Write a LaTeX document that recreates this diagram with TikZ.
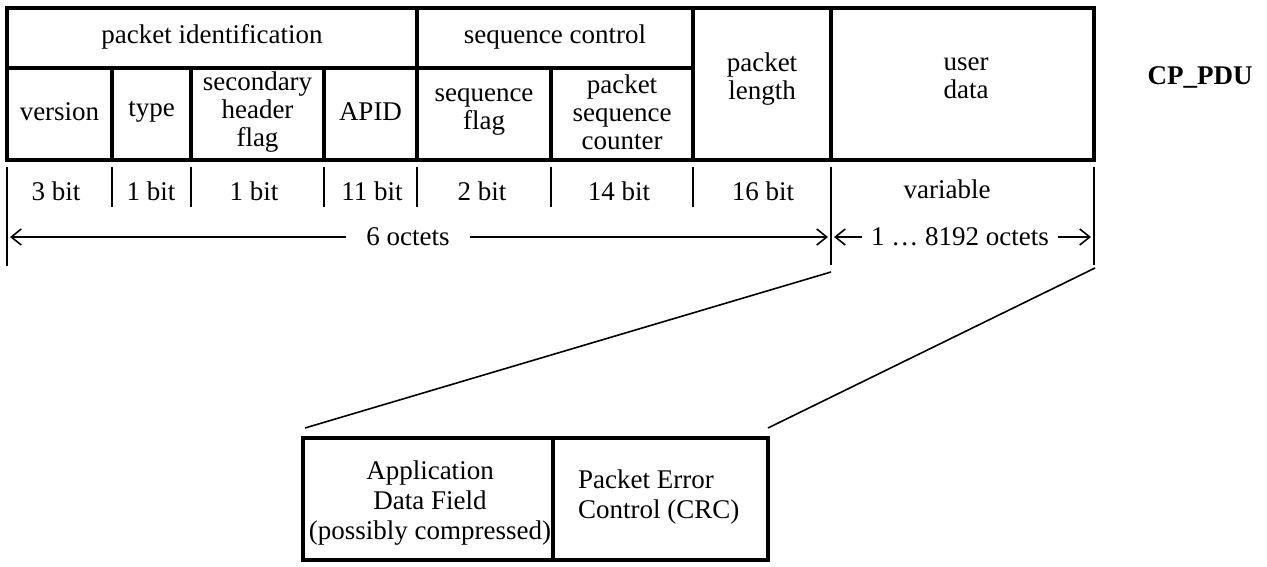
\documentclass[tikz,border=0pt]{standalone}
\usepackage{fontspec}
\setmainfont{Liberation Serif}
\usetikzlibrary{arrows.meta}
\begin{document}
\begin{tikzpicture}[x=1pt,y=-1pt,
  thickline/.style={line width=3.6pt},
  thinline/.style={line width=1.6pt},
  lbl/.style={inner sep=0pt, align=center, font=\fontsize{27}{28}\selectfont},
  lbl2/.style={inner sep=0pt, font=\fontsize{27}{30}\selectfont},
  arr/.style={thinline, -{Straight Barb[length=10pt,width=16pt,line width=1.6pt]}}
]
\useasboundingbox (0,0) rectangle (1267,567);
\fill[white] (0,0) rectangle (1267,567);

% ---------- header table ----------
\draw[thickline] (7,8) rectangle (1094,160);
\draw[thickline] (7,68) -- (693,68);
\foreach \x in {112,191,324,551} \draw[thickline] (\x,68) -- (\x,160);
\foreach \x in {417,693,831} \draw[thickline] (\x,8) -- (\x,160);

\node[lbl] (pid)  at (212,37)  {packet identification};
\node[lbl] (sqc)  at (555,37)  {sequence control};
\node[lbl] (ver)  at (59.5,112) {version};
\node[lbl] (typ)  at (151.5,112) {type};
\node[lbl] (shf)  at (257.5,112) {secondary\\header\\flag};
\node[lbl] (apid) at (370.5,112) {APID};
\node[lbl] (sqf)  at (484,112) {sequence\\flag};
\node[lbl] (psc)  at (622,112) {packet\\sequence\\counter};
\node[lbl] (plen) at (762,79)  {packet\\length};
\node[lbl] (udat) at (966,78)  {user\\data};
\node[lbl, font=\fontsize{27}{28}\selectfont\bfseries] (cp) at (1200,77) {CP\_PDU};

% ---------- bit sizes ----------
\foreach \x/\n in {112/a,191/b,324/c,417/d,551/e,693/f} {
  \coordinate (t\n) at (\x,167);
  \coordinate (b\n) at (\x,207);
  \draw[thinline] (t\n) -- (b\n);
}
\coordinate (tL) at (7,167);   \coordinate (bL) at (7,266);
\coordinate (tM) at (831,167); \coordinate (bM) at (831,265);
\coordinate (tR) at (1094,167);\coordinate (bR) at (1094,265);
\draw[thinline] (tL) -- (bL);
\draw[thinline] (tM) -- (bM);
\draw[thinline] (tR) -- (bR);

\node[lbl] (s1) at (56,191)  {3 bit};
\node[lbl] (s2) at (151,191) {1 bit};
\node[lbl] (s3) at (254,191) {1 bit};
\node[lbl] (s4) at (372,191) {11 bit};
\node[lbl] (s5) at (482,191) {2 bit};
\node[lbl] (s6) at (619,191) {14 bit};
\node[lbl] (s7) at (763,191) {16 bit};
\node[lbl] (s8) at (947,189) {variable};

% ---------- octet arrows ----------
\node[lbl, inner xsep=20pt] (oct6) at (408,237) {6 octets};
\draw[arr] (oct6.west) -- ([xshift=3pt]oct6.west -| tL);
\draw[arr] (oct6.east) -- ([xshift=-3pt]oct6.east -| tM);
\node[lbl, inner xsep=9pt] (octv) at (960,237) {1 … 8192 octets};
\draw[arr] (octv.west) -- ([xshift=3pt]octv.west -| tM);
\draw[arr] (octv.east) -- ([xshift=-3pt]octv.east -| tR);

% ---------- lower box ----------
\draw[thickline] (303,438) rectangle (768,560);
\draw[thickline] (553,438) -- (553,560);
\node[lbl2, align=center] (adf) at (430,503) {Application\\Data Field\\(possibly compressed)};
\node[lbl2, align=left, anchor=west] (pec) at (578,497) {Packet Error\\Control (CRC)};

\coordinate (zl) at (305,428);
\coordinate (zr) at (768,428);
\coordinate (ml) at (831,272);
\coordinate (mr) at (1095,268);
\draw[thinline] (ml) -- (zl);
\draw[thinline] (mr) -- (zr);
\end{tikzpicture}
\end{document}
